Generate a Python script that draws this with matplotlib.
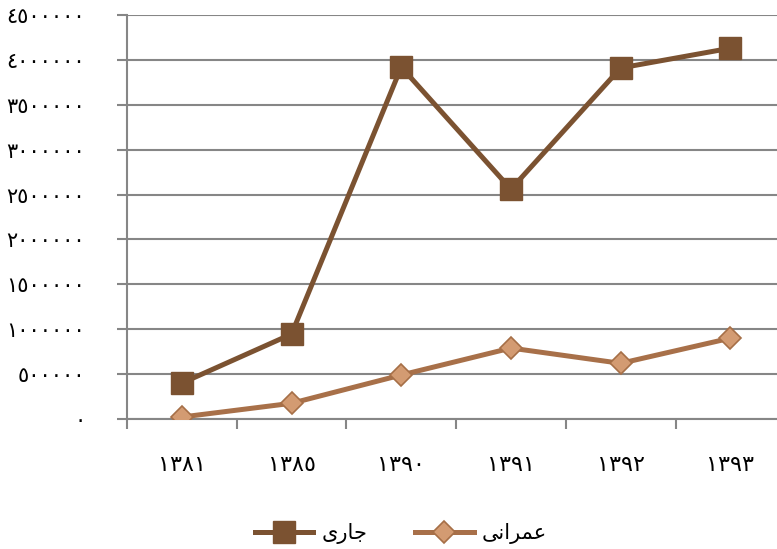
import matplotlib
matplotlib.use("Agg")
import matplotlib.pyplot as plt
from matplotlib.ticker import FixedLocator

# سال‌ها و مقادیر (خوانده شده از تصویر)
years = ["١٣٨١", "١٣٨٥", "١٣٩٠", "١٣٩١", "١٣٩٢", "١٣٩٣"]
jari = [400000, 946000, 3920000, 2560000, 3910000, 4130000]
omrani = [22000, 175000, 490000, 790000, 620000, 900000]

y_ticks = [0, 500000, 1000000, 1500000, 2000000, 2500000, 3000000, 3500000, 4000000, 4500000]
y_labels = ["٠", "٥٠٠٠٠٠", "١٠٠٠٠٠٠", "١٥٠٠٠٠٠", "٢٠٠٠٠٠٠", "٢٥٠٠٠٠٠",
            "٣٠٠٠٠٠٠", "٣٥٠٠٠٠٠", "٤٠٠٠٠٠٠", "٤٥٠٠٠٠٠"]

# presentation forms, visual order (matplotlib does no shaping)
name_jari = "\uFBFC\uFEAD\uFE8E\uFE9F"              # جاری
name_omrani = "\uFBFD\uFEE7\uFE8D\uFEAE\uFEE4\uFECB"  # عمرانی

plt.rcParams['font.family'] = ['DejaVu Sans']

fig = plt.figure(figsize=(7.77, 5.49), dpi=100)
ax = fig.add_axes([127 / 777, 1 - 419 / 549, 1 - 127 / 777, (419 - 15) / 549])

x = list(range(len(years)))
ax.plot(x, jari, color='#7B5231', linewidth=3.6, marker='s', markersize=16,
        markerfacecolor='#7B5231', markeredgecolor='#7B5231', label=name_jari, zorder=3)
ax.plot(x, omrani, color='#A87049', linewidth=3.6, marker='D', markersize=11,
        markerfacecolor='#D39B72', markeredgecolor='#A66F47', markeredgewidth=1.2,
        label=name_omrani, zorder=3)

ax.set_ylim(0, 4500000)
ax.set_xlim(-0.5, -0.5 + (777 - 127) / 109.7)
ax.set_yticks(y_ticks)
ax.set_yticklabels(y_labels, fontsize=15)
ax.set_xticks(x)
ax.set_xticklabels(years, fontsize=16)
ax.xaxis.set_minor_locator(FixedLocator([i - 0.5 for i in range(7)]))
ax.tick_params(axis='x', which='major', length=0, pad=26)
ax.tick_params(axis='x', which='minor', length=7, width=1.5, color='#868686')
ax.tick_params(axis='y', length=7, width=1.5, color='#868686', pad=23)

ax.grid(axis='y', color='#868686', linewidth=1.5)
ax.set_axisbelow(True)
for s in ['top', 'right']:
    ax.spines[s].set_visible(False)
for s in ['left', 'bottom']:
    ax.spines[s].set_color('#868686')
    ax.spines[s].set_linewidth(1.5)

ax.legend(loc='center', bbox_to_anchor=(401 / 777, 1 - 534 / 549),
          bbox_transform=fig.transFigure, ncol=2, frameon=False, fontsize=15,
          handlelength=2.8, columnspacing=2.3, handletextpad=0.4)

fig.savefig("out.png", dpi=100)
